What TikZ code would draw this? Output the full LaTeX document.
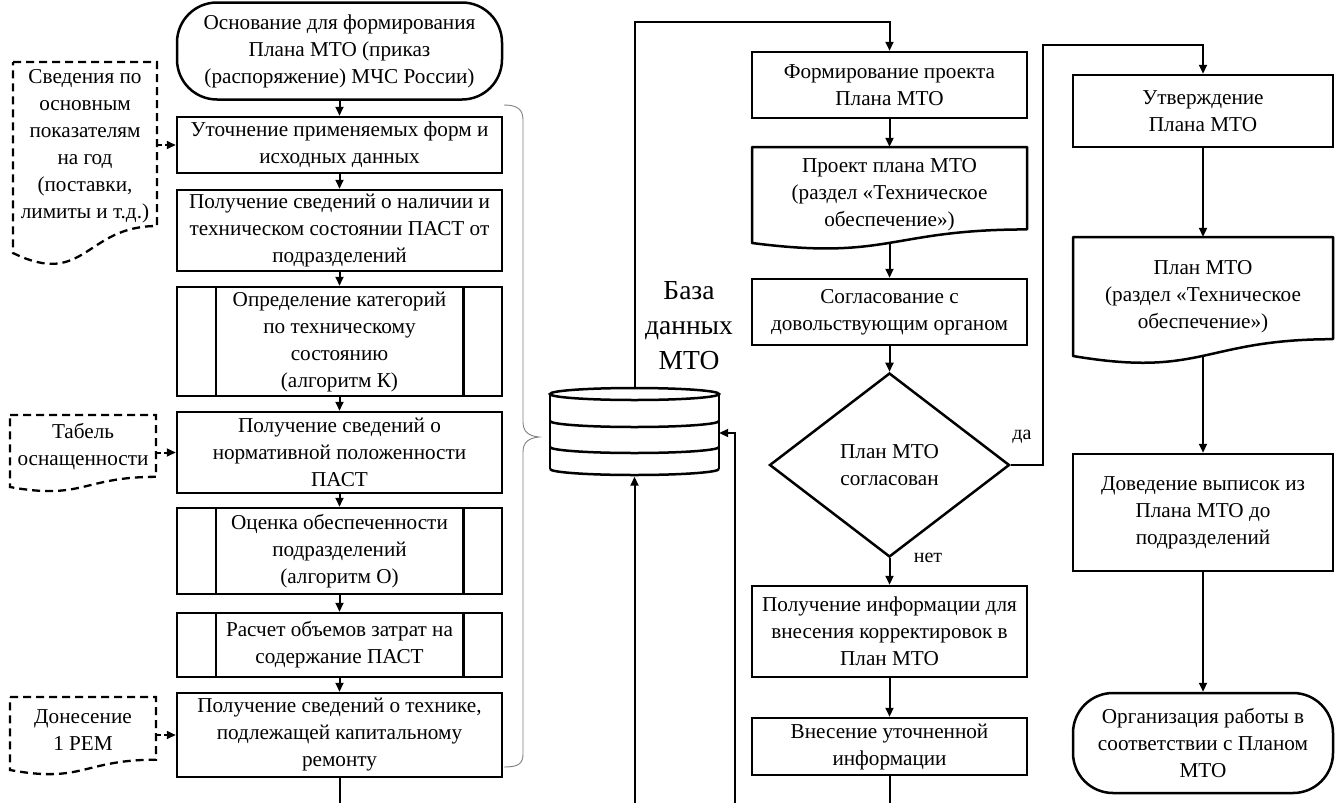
\documentclass[tikz,border=0pt]{standalone}
\usepackage{fontspec}
\setmainfont{Liberation Serif}
\usetikzlibrary{arrows.meta,shapes.geometric,calc}
\newcommand{\docshp}[5][]{%
 \draw[#1] (#2,#3) -- (#4,#3) -- (#4,{#3+0.8587*#5}) .. controls ({(#2+#4)/2},{#3+0.8587*#5}) and ({(#2+#4)/2},{#3+1.185*#5}) .. (#2,{#3+#5}) -- cycle;}
\tikzset{
  main/.style={font=\fontsize{21.2}{27}\selectfont, align=center, inner sep=0pt},
  box/.style={main, draw, line width=2.5pt, rectangle},
  term/.style={box, rounded corners=40pt},
  plain/.style={main},
  conn/.style={line width=2pt, -{Triangle[length=9pt,width=8pt]}},
  wire/.style={line width=2pt},
  dconn/.style={conn, dash pattern=on 5pt off 3pt},
  docline/.style={line width=2.5pt, line join=round},
  ddocline/.style={line width=2.3pt, dash pattern=on 8pt off 5pt},
  bracel/.style={gray, line width=0.9pt},
  small/.style={font=\fontsize{20}{24}\selectfont, inner sep=0pt},
}
\begin{document}
\begin{tikzpicture}[x=1pt,y=-1pt]
\useasboundingbox (0,0) rectangle (1340,803);
\fill[white] (0,0) rectangle (1340,803);

% ---------- left column ----------
\node[term, minimum width=325, minimum height=97] (start) at (339.5,51) {Основание для формирования\\Плана МТО (приказ\\(распоряжение) МЧС России)};
\node[box, minimum width=325, minimum height=56] (b1) at (339.5,145) {Уточнение применяемых форм и\\исходных данных};
\node[box, minimum width=325, minimum height=81] (b2) at (339.5,230.5) {Получение сведений о наличии и\\техническом состоянии ПАСТ от\\подразделений};
\node[box, minimum width=325, minimum height=109] (b3) at (339.5,341.5) {Определение категорий\\по техническому\\состоянию\\(алгоритм К)};
\node[box, minimum width=325, minimum height=81] (b4) at (339.5,452.5) {Получение сведений о\\нормативной положенности\\ПАСТ};
\node[box, minimum width=325, minimum height=86] (b5) at (339.5,551) {Оценка обеспеченности\\подразделений\\(алгоритм О)};
\node[box, minimum width=325, minimum height=64] (b6) at (339.5,645) {Расчет объемов затрат на\\содержание ПАСТ};
\node[box, minimum width=325, minimum height=84] (b7) at (339.5,735) {Получение сведений о технике,\\подлежащей капитальному\\ремонту};
\foreach \n in {b3,b5,b6}{
  \draw[line width=2.5pt] ([xshift=40pt]\n.north west) -- ([xshift=40pt]\n.south west);
  \draw[line width=2.5pt] ([xshift=-40pt]\n.north east) -- ([xshift=-40pt]\n.south east);
}
\draw[conn] (start) -- (b1);
\draw[conn] (b1) -- (b2);
\draw[conn] (b2) -- (b3);
\draw[conn] (b3) -- (b4);
\draw[conn] (b4) -- (b5);
\draw[conn] (b5) -- (b6);
\draw[conn] (b6) -- (b7);
\coordinate (leftOut) at (339.5,803);
\draw[wire] (b7) -- (leftOut);

% dashed input documents
\docshp[ddocline]{13}{62}{157}{191}
\docshp[ddocline]{10}{415}{156}{72}
\docshp[ddocline]{10}{697}{156}{73}
\node[plain, minimum width=144] (d1) at (85,146) {Сведения по\\основным\\показателям\\на год\\(поставки,\\лимиты и т.д.)};
\node[plain, minimum width=146] (d2) at (83,447) {Табель\\оснащенности};
\node[plain, minimum width=146] (d3) at (83,730) {Донесение\\1 РЕМ};
\draw[dconn] (b1.west -| d1.east) -- (b1.west);
\draw[dconn] (b4.west -| d2.east) -- (b4.west);
\draw[dconn] (b7.west -| d3.east) -- (b7.west);

% brace
\draw[bracel] (504,105) .. controls (518,105) and (523,110) .. (523,120) -- (523,422) .. controls (523,432) and (529,436) .. (539,437) .. controls (529,438) and (523,442) .. (523,452) -- (523,754) .. controls (523,764) and (518,767) .. (504,767);

% ---------- database ----------
\node[inner sep=0pt, minimum width=169, minimum height=87] (db) at (634.5,433) {};
\draw[line width=2.5pt] (634.5,394) ellipse [x radius=84.5pt, y radius=6pt];
\draw[line width=2.5pt] (550,394) -- (550,469);
\draw[line width=2.5pt] (719,394) -- (719,469);
\draw[line width=2.5pt] (550,421) arc[start angle=180, end angle=360, x radius=84.5pt, y radius=6pt];
\draw[line width=2.5pt] (550,447) arc[start angle=180, end angle=360, x radius=84.5pt, y radius=6pt];
\draw[line width=2.5pt] (550,469) arc[start angle=180, end angle=360, x radius=84.5pt, y radius=6pt];
\node[font=\fontsize{27.5}{35}\selectfont, align=center, inner sep=0pt] (dblabel) at (689,326) {База\\данных\\МТО};

% ---------- middle column ----------
\node[box, minimum width=275, minimum height=66] (form) at (889.5,85) {Формирование проекта\\Плана МТО};
\node[plain, minimum width=275, minimum height=96] (pd) at (889.5,195) {Проект плана МТО\\(раздел «Техническое\\обеспечение»)};
\docshp[docline]{752}{147}{1027}{96}
\node[box, minimum width=275, minimum height=66] (sogl) at (889.5,312) {Согласование с\\довольствующим органом};
\node[box, diamond, minimum width=240, minimum height=184] (dia) at (889.5,465) {План МТО\\согласован};
\node[box, minimum width=275, minimum height=91] (info) at (889.5,631.5) {Получение информации для\\внесения корректировок в\\План МТО};
\node[box, minimum width=275, minimum height=57] (vnes) at (889.5,746.5) {Внесение уточненной\\информации};
\draw[conn] (form) -- (pd);
\draw[conn] (pd) -- (sogl);
\draw[conn] (sogl) -- (dia);
\draw[conn] (dia) -- (info);
\draw[conn] (info) -- (vnes);
\coordinate (midOut) at (889.5,803);
\draw[wire] (vnes) -- (midOut);
\node[small] (no) at (928,558) {нет};

% database connectors
\coordinate (dbUp) at (634.5,22);
\draw[conn] (db.north) -- (dbUp) -| (form.north);
\coordinate (inA) at (634.5,803);
\draw[conn] (inA) -- (db.south);
\coordinate (inB) at (735,803);
\draw[conn] (inB) |- (db.east);

% ---------- right column ----------
\node[box, minimum width=260, minimum height=72] (utv) at (1203,111) {Утверждение\\Плана МТО};
\node[plain, minimum width=260, minimum height=119] (pl) at (1203,296.5) {План МТО\\(раздел «Техническое\\обеспечение»)};
\docshp[docline]{1073}{237}{1333}{119}
\node[box, minimum width=260, minimum height=117] (dov) at (1203,512.5) {Доведение выписок из\\Плана МТО до\\подразделений};
\node[term, minimum width=260, minimum height=100] (org) at (1203,743) {Организация работы в\\соответствии с Планом\\МТО};
\draw[conn] (utv) -- (pl);
\draw[conn] (pl) -- (dov);
\draw[conn] (dov) -- (org);

% yes branch
\coordinate (yesUp) at (1043,45);
\draw[conn] (dia.east) -| (yesUp) -| (utv.north);
\node[small] (yes) at (1022,437) {да};
\end{tikzpicture}
\end{document}
